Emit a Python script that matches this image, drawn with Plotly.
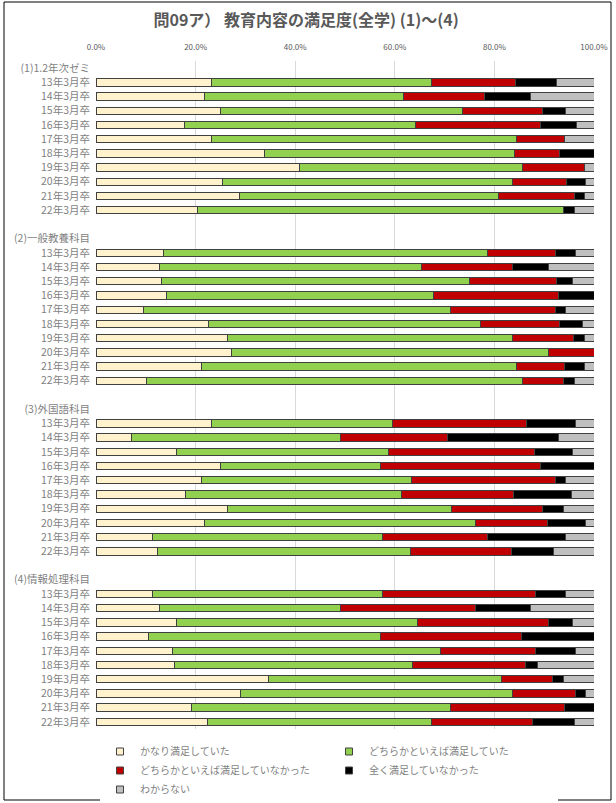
import plotly.graph_objects as go

groups = ["(1)1.2年次ゼミ", "(2)一般教養科目", "(3)外国語科目", "(4)情報処理科目"]
years = ["13年3月卒", "14年3月卒", "15年3月卒", "16年3月卒", "17年3月卒",
         "18年3月卒", "19年3月卒", "20年3月卒", "21年3月卒", "22年3月卒"]
series_names = ["かなり満足していた", "どちらかといえば満足していた",
                "どちらかといえば満足していなかった", "全く満足していなかった", "わからない"]
x_ticks = [0, 20, 40, 60, 80, 100]
x_tick_labels = ["0.0%", "20.0%", "40.0%", "60.0%", "80.0%", "100.0%"]

# values per group: rows = years, cols = series (%)
g1 = [
    [23.1, 44.2, 17.0, 8.1, 7.6],
    [21.7, 40.1, 16.2, 9.2, 12.8],
    [24.9, 48.6, 16.1, 4.6, 5.8],
    [17.7, 46.5, 25.0, 7.3, 3.5],
    [23.1, 61.3, 9.7, 0.0, 5.9],
    [33.9, 50.2, 8.9, 7.0, 0.0],
    [40.8, 44.9, 12.3, 0.0, 2.0],
    [25.4, 58.3, 10.7, 3.8, 1.8],
    [28.8, 52.0, 15.3, 2.0, 1.9],
    [20.3, 73.5, 0.0, 2.2, 4.0],
]
g2 = [
    [13.5, 65.2, 13.5, 4.1, 3.7],
    [12.7, 52.7, 18.2, 7.3, 9.1],
    [13.2, 61.7, 17.6, 3.2, 4.3],
    [14.2, 53.6, 25.0, 7.2, 0.0],
    [9.5, 61.6, 21.1, 2.0, 5.8],
    [22.6, 54.6, 15.8, 4.7, 2.3],
    [26.5, 57.1, 12.3, 2.1, 2.0],
    [27.2, 63.6, 9.2, 0.0, 0.0],
    [21.1, 63.3, 9.7, 4.0, 1.9],
    [10.1, 75.5, 8.2, 2.2, 4.0],
]
g3 = [
    [23.1, 36.4, 27.0, 9.7, 3.8],
    [7.2, 41.8, 21.6, 22.2, 7.2],
    [16.1, 42.6, 29.3, 7.7, 4.3],
    [24.9, 32.2, 32.2, 10.7, 0.0],
    [21.1, 42.3, 28.8, 2.0, 5.8],
    [18.0, 43.3, 22.6, 11.5, 4.6],
    [26.5, 44.8, 18.3, 4.3, 6.1],
    [21.7, 54.6, 14.4, 7.5, 1.8],
    [11.4, 46.2, 21.0, 15.6, 5.8],
    [12.3, 50.9, 20.3, 8.4, 8.1],
]
g4 = [
    [11.4, 46.2, 30.7, 5.9, 5.8],
    [12.7, 36.3, 27.3, 10.9, 12.8],
    [16.1, 48.5, 26.3, 4.8, 4.3],
    [10.6, 46.5, 28.4, 14.5, 0.0],
    [15.3, 53.8, 19.2, 7.9, 3.8],
    [15.8, 47.8, 22.6, 2.5, 11.3],
    [34.6, 46.9, 10.2, 2.2, 6.1],
    [29.0, 54.6, 12.6, 2.0, 1.8],
    [19.2, 51.9, 23.0, 5.9, 0.0],
    [22.3, 45.0, 20.3, 8.4, 4.0],
]
group_values = [g1, g2, g3, g4]

colors = ["#FFF2CC", "#92D050", "#C00000", "#000000", "#BFBFBF"]
outline = "#404040"

# build row layout: header, 10 years, blank between groups
tick_pos, tick_txt = [], []
row_y = []
pos = 0
for gi, gname in enumerate(groups):
    tick_pos.append(pos); tick_txt.append(gname)
    pos += 1
    ys = []
    for yr in years:
        tick_pos.append(pos); tick_txt.append(yr)
        ys.append(pos)
        pos += 1
    row_y.append(ys)
    if gi < len(groups) - 1:
        pos += 1
n_rows = pos

fig = go.Figure()
for si, sname in enumerate(series_names):
    xs, ys = [], []
    for gi in range(len(groups)):
        for ri in range(len(years)):
            xs.append(group_values[gi][ri][si])
            ys.append(row_y[gi][ri])
    fig.add_trace(go.Bar(
        x=xs, y=ys, orientation="h", name=sname, showlegend=False,
        marker=dict(color=colors[si], line=dict(color=outline, width=1)),
        width=0.52,
    ))
# legend-only entries (small square swatches)
for si, sname in enumerate(series_names):
    fig.add_trace(go.Scatter(
        x=[None], y=[None], mode="markers", name=sname,
        marker=dict(symbol="square", size=7, color=colors[si],
                    line=dict(color=outline, width=1)),
    ))

font_family = "Noto Sans CJK JP, Noto Sans, sans-serif"
W, H = 616, 803
ml, mr, mt, mb = 96, 22, 61, 0
plot_bottom = 729
pw = W - ml - mr
ph = H - mt - mb
dom_bottom = (H - mb - plot_bottom) / ph

def py(screen_y):
    return (H - mb - screen_y) / ph

fig.update_layout(
    barmode="stack",
    width=W, height=H,
    margin=dict(l=ml, r=mr, t=mt, b=mb, autoexpand=False),
    paper_bgcolor="white", plot_bgcolor="white",
    font=dict(family=font_family, color="#595959", size=10),
    title=dict(text="<b>問09ア） 教育内容の満足度(全学) (1)～(4)</b>",
               x=0.497, xanchor="center", y=1 - 20 / H, yanchor="middle",
               font=dict(size=16, color="#595959", family=font_family)),
    xaxis=dict(range=[0, 100], side="top", tickvals=x_ticks, ticktext=x_tick_labels,
               showgrid=True, gridcolor="#D9D9D9", gridwidth=1, zeroline=False,
               showline=False, ticks="", ticklabelstandoff=8,
               tickfont=dict(size=8, color="#595959")),
    yaxis=dict(range=[n_rows - 0.5, -0.5], tickvals=tick_pos, ticktext=tick_txt,
               domain=[dom_bottom, 1],
               showgrid=False, zeroline=False, showline=False, ticks="",
               ticklabelstandoff=5, tickfont=dict(size=10.5, color="#7F7F7F")),
    legend=dict(orientation="h", x=(100 - ml) / pw, xanchor="left", y=py(737), yanchor="top",
                entrywidth=184, entrywidthmode="pixels", itemwidth=30,
                font=dict(size=10, color="#7F7F7F"), traceorder="normal"),
    bargap=0.45,
    shapes=[dict(type="rect", xref="paper", yref="paper",
                 x0=(4 - ml) / pw, x1=(611 - ml) / pw,
                 y0=py(800), y1=py(2),
                 line=dict(color="#000000", width=1), fillcolor="rgba(0,0,0,0)",
                 layer="below")],
)

fig.write_html("out.html", config={"displayModeBar": False},
               post_script="document.body.style.margin='0px';document.body.style.overflow='hidden';")
